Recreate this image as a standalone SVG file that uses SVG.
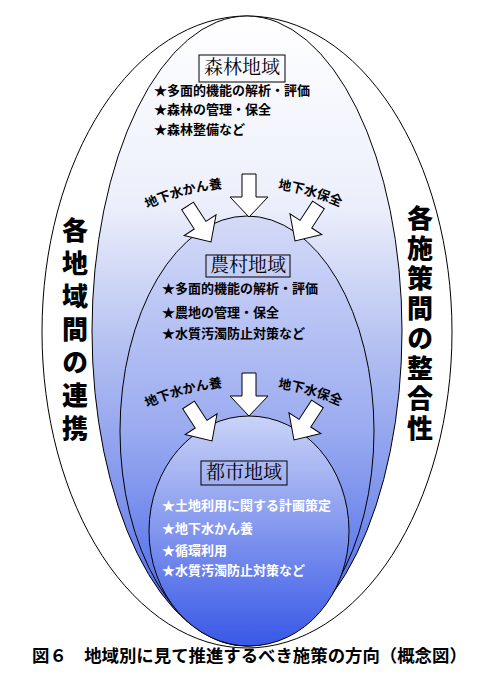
<svg xmlns="http://www.w3.org/2000/svg" width="492" height="679" viewBox="0 0 492 679">
<defs>
<linearGradient id="gForest" x1="0" y1="0" x2="0" y2="1">
<stop offset="0" stop-color="#ffffff"/>
<stop offset="0.3" stop-color="#eceffb"/>
<stop offset="0.55" stop-color="#aebbf1"/>
<stop offset="0.78" stop-color="#7c91ec"/>
<stop offset="1" stop-color="#3b5ce8"/>
</linearGradient>
<linearGradient id="gFarm" x1="0" y1="0" x2="0" y2="1">
<stop offset="0" stop-color="#d4daf7"/>
<stop offset="0.5" stop-color="#9aabf0"/>
<stop offset="1" stop-color="#3b5ce8"/>
</linearGradient>
<linearGradient id="gUrban" x1="0" y1="0" x2="0" y2="1">
<stop offset="0" stop-color="#cad3f7"/>
<stop offset="0.5" stop-color="#8296ee"/>
<stop offset="1" stop-color="#3858e8"/>
</linearGradient>
<polygon id="arrow" points="-7,-43 7,-43 7,-20 19,-20 0,0 -19,-20 -7,-20"/>
<path id="arcFarm" d="M 97,241 A 232,232 0 0 1 395,241"/>
<path id="arcUrban" d="M 97,440 A 232,232 0 0 1 395,440"/>
</defs>
<style>
.ell{stroke:#000;stroke-width:1}
.box{fill:none;stroke:#000;stroke-width:1}
.title{font-family:'Noto Serif CJK JP','Noto Sans CJK JP',serif;font-size:19px;text-anchor:middle;fill:#000}
.item{font-family:'Noto Sans CJK JP',sans-serif;font-size:13px;font-weight:bold;fill:#000}
.itemW{font-family:'Noto Sans CJK JP',sans-serif;font-size:13px;font-weight:bold;fill:#fff}
.side{font-family:'Noto Sans CJK JP',sans-serif;font-size:26px;font-weight:900;fill:#000;writing-mode:vertical-rl}
.lbl{font-family:'Noto Sans CJK JP',sans-serif;font-size:13px;font-weight:bold;text-anchor:middle;fill:#000}
.arr{fill:#fff;stroke:#000;stroke-width:1}
.cap{font-family:'Noto Sans CJK JP',sans-serif;font-size:17.4px;font-weight:bold;fill:#000}
</style>
<rect width="492" height="679" fill="#fff"/>
<g id="outer">
<ellipse class="ell" cx="247" cy="332" rx="205" ry="316" fill="#fff"/>
<text class="side" x="75" y="217" letter-spacing="7">各地域間の連携</text>
<text class="side" x="420" y="205" letter-spacing="4">各施策間の整合性</text>
</g>
<g id="forest">
<ellipse class="ell" cx="247" cy="331" rx="155" ry="315" fill="url(#gForest)"/>
<rect class="box" x="199" y="55" width="86" height="27"/>
<text class="title" x="242" y="74">森林地域</text>
<text class="item" x="154" y="95">★多面的機能の解析・評価</text>
<text class="item" x="154" y="114">★森林の管理・保全</text>
<text class="item" x="154" y="134">★森林整備など</text>
</g>
<g id="farm">
<ellipse class="ell" cx="247" cy="431" rx="127" ry="215" fill="url(#gFarm)"/>
<rect class="box" x="206" y="255" width="84" height="22"/>
<text class="title" x="248" y="272">農村地域</text>
<text class="item" x="162" y="293">★多面的機能の解析・評価</text>
<text class="item" x="162" y="317">★農地の管理・保全</text>
<text class="item" x="162" y="338">★水質汚濁防止対策など</text>
</g>
<g id="urban">
<ellipse class="ell" cx="249" cy="531" rx="100" ry="115" fill="url(#gUrban)"/>
<rect class="box" x="201" y="461" width="86" height="24"/>
<text class="title" x="244" y="479">都市地域</text>
<text class="itemW" x="162" y="510">★土地利用に関する計画策定</text>
<text class="itemW" x="162" y="533">★地下水かん養</text>
<text class="itemW" x="162" y="555">★循環利用</text>
<text class="itemW" x="162" y="575">★水質汚濁防止対策など</text>
</g>
<g id="connectors">
<use href="#arrow" class="arr" transform="translate(249,217)"/>
<use href="#arrow" class="arr" transform="translate(211,242) rotate(-33)"/>
<use href="#arrow" class="arr" transform="translate(295,241) rotate(33)"/>
<text class="lbl"><textPath href="#arcFarm" startOffset="99">地下水かん養</textPath></text>
<text class="lbl"><textPath href="#arcFarm" startOffset="226">地下水保全</textPath></text>
<use href="#arrow" class="arr" transform="translate(249,416)"/>
<use href="#arrow" class="arr" transform="translate(212,441) rotate(-33)"/>
<use href="#arrow" class="arr" transform="translate(294,440) rotate(33)"/>
<text class="lbl"><textPath href="#arcUrban" startOffset="99">地下水かん養</textPath></text>
<text class="lbl"><textPath href="#arcUrban" startOffset="226">地下水保全</textPath></text>
</g>
<g id="caption">
<text class="cap" x="32" y="662">図６　地域別に見て推進するべき施策の方向（概念図）</text>
</g>
</svg>
